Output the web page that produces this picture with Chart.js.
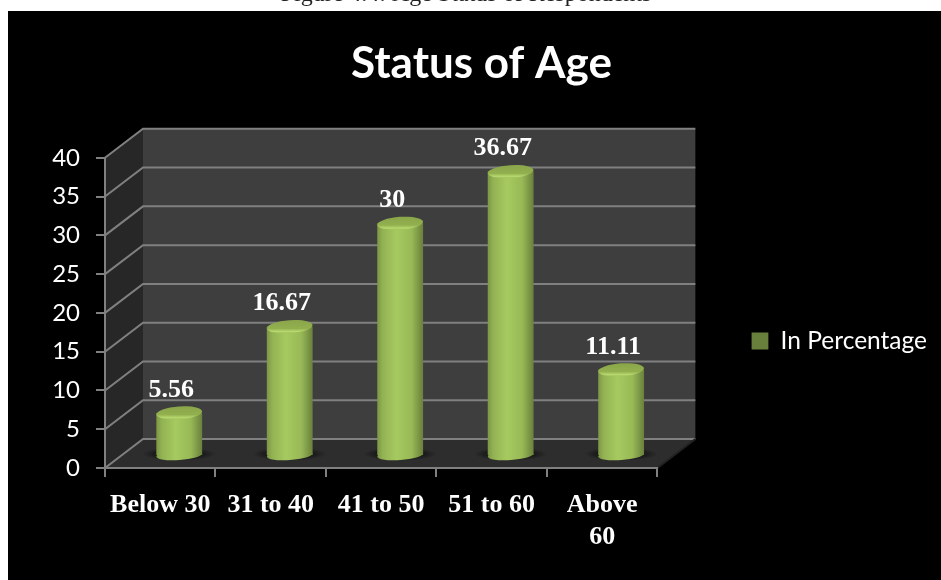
<!DOCTYPE html>
<html lang="en">
<head>
    <meta charset="UTF-8">
    <title>Status of Age</title>
    <script src="https://cdn.jsdelivr.net/npm/chart.js"></script>
    <style>
        html, body { margin: 0; padding: 0; background: #fff; }
        #wrap { width: 941px; height: 580px; position: relative; overflow: hidden; }
    </style>
</head>
<body>
    <div id="wrap"><canvas id="chart"></canvas></div>

    <script>
        const categories = ['Below 30', '31 to 40', '41 to 50', '51 to 60', ['Above', '60']];
        const seriesName = 'In Percentage';
        const percentages = [5.56, 16.67, 30, 36.67, 11.11];
        const yTicks = [0, 5, 10, 15, 20, 25, 30, 35, 40];
        const captionText = 'Figure 4.4: Age Status of Respondents';

        // how far the back wall sits from the front plane
        const depthX = 38;
        const depthY = -29;
        // the bars stand in the middle of the floor
        const barShiftX = 19;
        const barShiftY = -12;

        const GRID = '#808080';

        function barGradient(c, left, right) {
            const g = c.createLinearGradient(left, 0, right, 0);
            g.addColorStop(0, '#7c9644');
            g.addColorStop(0.12, '#93b253');
            g.addColorStop(0.42, '#a6ca60');
            g.addColorStop(0.75, '#98b956');
            g.addColorStop(1, '#69803c');
            return g;
        }

        const scene = {
            id: 'scene',
            afterLayout(chart) {
                // the plot keeps its width, title and legend move to their spots
                const t = chart.titleBlock, lg = chart.legend;
                t.left += 60; t.right += 60;
                lg.left += 94; lg.right += 94;
                lg.top += 51; lg.bottom += 51;
            },
            beforeDraw(chart) {
                const c = chart.ctx;
                const { x, y } = chart.scales;
                const l = x.left, r = x.right, b = y.getPixelForValue(0), t = y.getPixelForValue(40);
                c.save();
                c.fillStyle = '#fff';
                c.fillRect(0, 0, chart.width, chart.height);
                c.fillStyle = '#000';
                c.fillRect(8, 11, chart.width - 8, chart.height - 11);

                // caption, its top is cut off by the picture edge
                c.fillStyle = '#222';
                c.font = '24px "Liberation Serif"';
                c.textAlign = 'center';
                c.textBaseline = 'alphabetic';
                c.fillText(captionText, 466, 1);

                // back wall
                c.fillStyle = '#3e3e3e';
                c.fillRect(l + depthX, t + depthY, r - l, b - t);
                // side wall
                c.fillStyle = '#272727';
                c.beginPath();
                c.moveTo(l, t);
                c.lineTo(l + depthX, t + depthY);
                c.lineTo(l + depthX, b + depthY);
                c.lineTo(l, b);
                c.closePath();
                c.fill();
                // floor
                c.fillStyle = '#2d2d2d';
                c.beginPath();
                c.moveTo(l, b);
                c.lineTo(l + depthX, b + depthY);
                c.lineTo(r + depthX, b + depthY);
                c.lineTo(r, b);
                c.closePath();
                c.fill();

                // grid lines run along the side wall and the back wall
                c.strokeStyle = GRID;
                c.lineWidth = 2;
                yTicks.forEach(v => {
                    const py = y.getPixelForValue(v);
                    c.beginPath();
                    c.moveTo(l, py);
                    c.lineTo(l + depthX, py + depthY);
                    c.lineTo(r + depthX, py + depthY);
                    c.stroke();
                });
                // floor right edge
                c.beginPath();
                c.moveTo(r, b);
                c.lineTo(r + depthX, b + depthY);
                c.strokeStyle = '#222';
                c.stroke();
                c.restore();
            },
            beforeDatasetDraw(chart) {
                const c = chart.ctx;
                const meta = chart.getDatasetMeta(0);
                c.save();
                c.translate(barShiftX, barShiftY);
                // soft shadow on the floor, then the round foot of each bar
                meta.data.forEach(el => {
                    const w = el.width / 2;
                    const g = c.createRadialGradient(0, 0, w * 0.6, 0, 0, w + 14);
                    g.addColorStop(0, 'rgba(0,0,0,0.75)');
                    g.addColorStop(1, 'rgba(0,0,0,0)');
                    c.save();
                    c.translate(el.x, el.base - 1);
                    c.scale(1, 0.18);
                    c.fillStyle = g;
                    c.beginPath();
                    c.arc(0, 0, w + 14, 0, Math.PI * 2);
                    c.fill();
                    c.restore();
                    c.fillStyle = barGradient(c, el.x - w, el.x + w);
                    c.beginPath();
                    c.ellipse(el.x, el.base, w, 5, -0.07, 0, Math.PI * 2);
                    c.fill();
                });
            },
            afterDatasetDraw(chart) {
                const c = chart.ctx;
                const meta = chart.getDatasetMeta(0);
                // top cap of each bar
                meta.data.forEach(el => {
                    const w = el.width / 2;
                    const g = c.createLinearGradient(0, el.y - 6, 0, el.y + 6);
                    g.addColorStop(0, '#8aa64a');
                    g.addColorStop(0.65, '#93b04f');
                    g.addColorStop(0.9, '#b7d86e');
                    g.addColorStop(1, '#a3c45e');
                    c.fillStyle = g;
                    c.beginPath();
                    c.ellipse(el.x, el.y, w, 6.5, -0.07, 0, Math.PI * 2);
                    c.fill();
                });
                c.restore();

                // value labels
                const { x, y } = chart.scales;
                c.save();
                c.fillStyle = '#fff';
                c.font = 'bold 26px "Liberation Serif"';
                c.textAlign = 'center';
                c.textBaseline = 'middle';
                percentages.forEach((v, i) => {
                    c.fillText(String(v), x.getPixelForValue(i) + 11, y.getPixelForValue(v) - 35);
                });
                c.restore();
            }
        };

        new Chart(document.getElementById('chart'), {
            type: 'bar',
            data: {
                labels: categories,
                datasets: [{
                    label: seriesName,
                    data: percentages,
                    yAxisID: 'y',
                    barPercentage: 0.415,
                    categoryPercentage: 1,
                    borderWidth: 0,
                    backgroundColor: ctx => {
                        const px = ctx.dataIndex === undefined ? NaN : ctx.chart.scales.x.getPixelForValue(ctx.dataIndex);
                        // the legend and the first pass ask before the scale has a size
                        if (!isFinite(px)) return '#8fab4e';
                        return barGradient(ctx.chart.ctx, px - 23, px + 23);
                    }
                }]
            },
            options: {
                responsive: true,
                maintainAspectRatio: false,
                animation: false,
                devicePixelRatio: 1,
                layout: { padding: { left: 0, right: 98, top: 0, bottom: 0 } },
                plugins: {
                    tooltip: { enabled: false },
                    title: {
                        display: true,
                        text: 'Status of Age',
                        color: '#fff',
                        font: { family: 'Lato', size: 44, weight: 'bold', lineHeight: 1.2 },
                        padding: { top: 37, bottom: 68 }
                    },
                    legend: {
                        position: 'right',
                        align: 'center',
                        labels: {
                            color: '#fff',
                            font: { family: 'Lato', size: 24.5 },
                            boxWidth: 17,
                            boxHeight: 17,
                            padding: 0
                        }
                    }
                },
                scales: {
                    x: {
                        grid: { drawOnChartArea: false, drawTicks: true, tickLength: 9, color: GRID, lineWidth: 2 },
                        border: { color: GRID, width: 2 },
                        ticks: {
                            color: '#fff',
                            maxRotation: 0,
                            autoSkip: false,
                            padding: 13,
                            font: { family: 'Liberation Serif', size: 26, weight: 'bold', lineHeight: 1.2 }
                        },
                        afterFit: s => { s.height = 112; }
                    },
                    y: {
                        min: 0,
                        max: 40,
                        afterBuildTicks: s => { s.ticks = yTicks.map(v => ({ value: v })); },
                        grid: { drawOnChartArea: false, drawTicks: true, tickLength: 9, color: GRID, lineWidth: 2 },
                        border: { color: GRID, width: 2 },
                        ticks: {
                            color: '#fff',
                            padding: 16,
                            font: { family: 'Lato', size: 24 }
                        },
                        afterFit: s => { s.width = 105; }
                    }
                }
            },
            plugins: [scene]
        });
    </script>
</body>
</html>
